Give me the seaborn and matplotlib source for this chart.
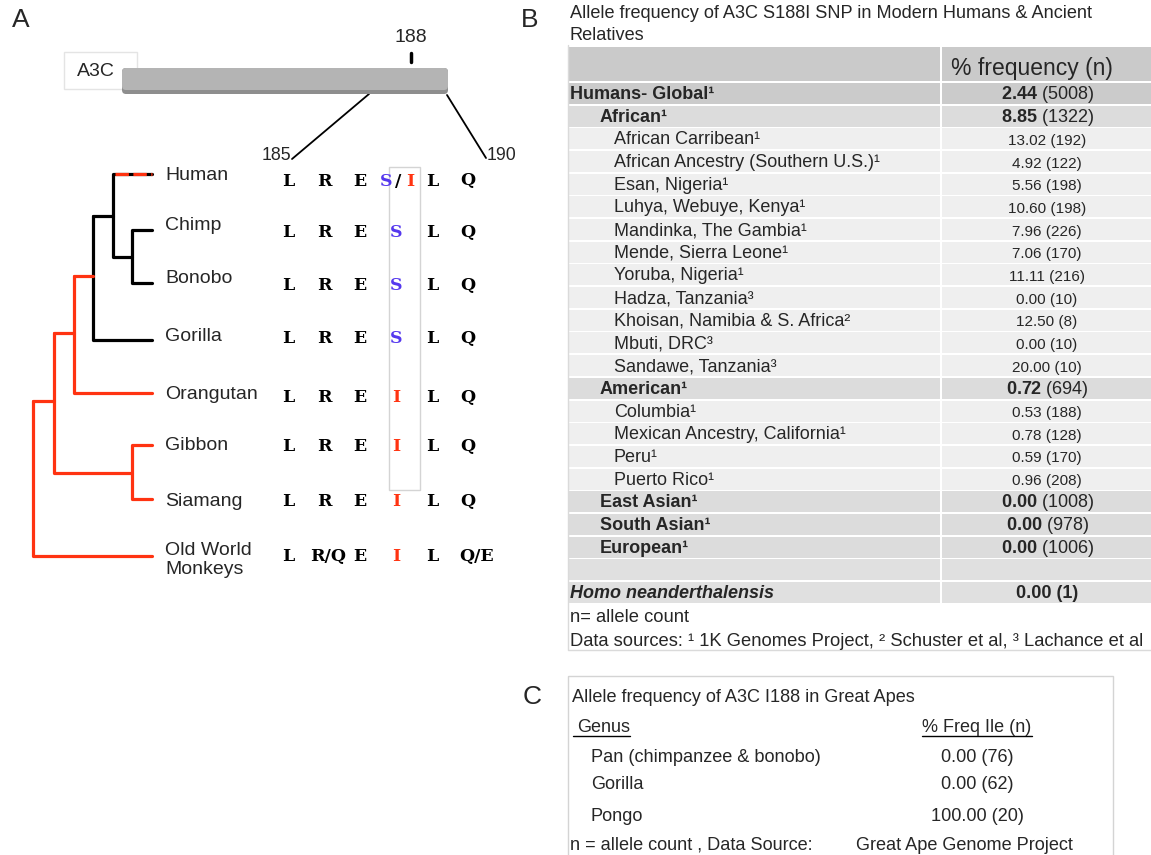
import pandas as pd
import seaborn as sns
import matplotlib.pyplot as plt
from matplotlib.patches import Rectangle, FancyBboxPatch

# ---- panel A data ----
species = ["Human", "Chimp", "Bonobo", "Gorilla", "Orangutan", "Gibbon", "Siamang", "Old World\nMonkeys"]
residues = [
    ["L", "R", "E", "S/I", "L", "Q"],
    ["L", "R", "E", "S", "L", "Q"],
    ["L", "R", "E", "S", "L", "Q"],
    ["L", "R", "E", "S", "L", "Q"],
    ["L", "R", "E", "I", "L", "Q"],
    ["L", "R", "E", "I", "L", "Q"],
    ["L", "R", "E", "I", "L", "Q"],
    ["L", "R/Q", "E", "I", "L", "Q/E"],
]
site_labels = ["185", "188", "190"]

# ---- panel B data ----
pop_names = ["Humans- Global", "African", "African Carribean", "African Ancestry (Southern U.S.)",
             "Esan, Nigeria", "Luhya, Webuye, Kenya", "Mandinka, The Gambia", "Mende, Sierra Leone",
             "Yoruba, Nigeria", "Hadza, Tanzania", "Khoisan, Namibia & S. Africa", "Mbuti, DRC",
             "Sandawe, Tanzania", "American", "Columbia", "Mexican Ancestry, California", "Peru",
             "Puerto Rico", "East Asian", "South Asian", "European"]
pop_level = [0, 1, 2, 2, 2, 2, 2, 2, 2, 2, 2, 2, 2, 1, 2, 2, 2, 2, 1, 1, 1]
pop_source = ["1", "1", "1", "1", "1", "1", "1", "1", "1", "3", "2", "3", "3",
              "1", "1", "1", "1", "1", "1", "1", "1"]
pop_freq = [2.44, 8.85, 13.02, 4.92, 5.56, 10.60, 7.96, 7.06, 11.11, 0.00, 12.50, 0.00,
            20.00, 0.72, 0.53, 0.78, 0.59, 0.96, 0.00, 0.00, 0.00]
pop_n = [5008, 1322, 192, 122, 198, 198, 226, 170, 216, 10, 8, 10, 10, 694, 188, 128,
         170, 208, 1008, 978, 1006]
nean_name = "Homo neanderthalensis"
nean_freq = 0.00
nean_n = 1

# ---- panel C data ----
genus = ["Pan (chimpanzee & bonobo)", "Gorilla", "Pongo"]
ape_freq = [0.00, 0.00, 100.00]
ape_n = [76, 62, 20]

sns.set_style("white")
plt.rcParams['font.family'] = ['Liberation Sans', 'DejaVu Sans']
plt.rcParams['mathtext.fontset'] = 'custom'
plt.rcParams['mathtext.rm'] = 'Liberation Sans'
plt.rcParams['mathtext.bf'] = 'Liberation Sans:bold'

sup = {"1": "\u00b9", "2": "\u00b2", "3": "\u00b3"}
RED = "#ff3311"
BLUE = "#5538ee"

fig = plt.figure(figsize=(11.51, 8.55), dpi=100)
ax = fig.add_axes([0, 0, 1, 1])

# ================= Panel A =================
ax.text(21, 20, "A", fontsize=19, ha="center", va="center")

# protein bar
ax.add_patch(Rectangle((64, 52), 73, 37, facecolor="white", edgecolor="#e4e4e4", lw=1, zorder=1))
ax.text(96, 72, "A3C", fontsize=14, ha="center", va="center", zorder=2)
ax.add_patch(FancyBboxPatch((122, 68), 326, 26, boxstyle="round,pad=0,rounding_size=4",
                            facecolor="#8e8e8e", edgecolor="none", zorder=3))
ax.add_patch(FancyBboxPatch((122, 68), 326, 22, boxstyle="round,pad=0,rounding_size=4",
                            facecolor="#b4b4b4", edgecolor="none", zorder=4))
ax.plot([411, 411], [53, 62], color="black", lw=2.5)
ax.text(411, 38, site_labels[1], fontsize=14, ha="center", va="center")
ax.plot([369, 292], [94, 159], color="black", lw=1.3)
ax.plot([447, 486], [95, 158], color="black", lw=1.3)
ax.text(276, 156, site_labels[0], fontsize=12.8, ha="center", va="center")
ax.text(502, 156, site_labels[2], fontsize=12.8, ha="center", va="center")

# tree branches
segs = [
    # black clade (African apes)
    ("k", [(93, 216), (93, 340), (152, 340)]),
    ("k", [(93, 216), (113, 216)]),
    ("k", [(152, 174), (113, 174), (113, 257), (132, 257)]),
    ("k", [(152, 230), (132, 230), (132, 283), (152, 283)]),
    # red lineages
    ("r", [(74, 276), (93, 276)]),
    ("r", [(74, 276), (74, 393), (152, 393)]),
    ("r", [(54, 333), (74, 333)]),
    ("r", [(54, 333), (54, 473), (132, 473)]),
    ("r", [(152, 445), (132, 445), (132, 499), (152, 499)]),
    ("r", [(33, 401), (54, 401)]),
    ("r", [(33, 401), (33, 556), (152, 556)]),
]
rows = []
for i, (c, pts) in enumerate(segs):
    for j, (x, y) in enumerate(pts):
        rows.append({"x": x, "y": y, "seg": i, "order": j, "col": c})
tree = pd.DataFrame(rows)
sns.lineplot(data=tree, x="x", y="y", units="seg", estimator=None, sort=False,
             hue="col", palette={"k": "black", "r": RED}, lw=2.3, legend=False, ax=ax)
ax.plot([115, 152], [174, 174], color=RED, lw=2.3, dashes=(4.2, 1.4), zorder=5)

label_y = [176, 225, 278, 336, 394, 445, 501, 560]
seq_y = [181, 232, 285, 338, 397, 446, 501, 556]
col_x = [288, 324, 360, 396, 432, 468]
for name, ly in zip(species, label_y):
    ax.text(165, ly, name, fontsize=14, ha="left", va="center", linespacing=1.15)

ax.add_patch(Rectangle((389, 167), 31, 323, facecolor="none", edgecolor="#d4d4d4", lw=1))
seq_font = dict(family="DejaVu Serif", fontweight="bold", fontsize=12.5, va="center")
for res, sy in zip(residues, seq_y):
    for k, (aa, cx) in enumerate(zip(res, col_x)):
        if aa == "S/I":
            ax.text(386, sy, "S", color=BLUE, ha="center", **seq_font)
            ax.text(398, sy, "/", color="black", ha="center", **seq_font)
            ax.text(410, sy, "I", color=RED, ha="center", **seq_font)
        elif aa == "S":
            ax.text(cx, sy, aa, color=BLUE, ha="center", **seq_font)
        elif aa == "I":
            ax.text(cx, sy, aa, color=RED, ha="center", **seq_font)
        elif "/" in aa:
            ax.text(cx + 4 if k == 1 else cx + 9, sy, aa, color="black", ha="center", **seq_font)
        else:
            ax.text(cx, sy, aa, color="black", ha="center", **seq_font)

# ================= Panel B =================
ax.text(530, 20, "B", fontsize=19, ha="center", va="center")
ax.text(570, 14, "Allele frequency of A3C S188I SNP in Modern Humans & Ancient",
        fontsize=13.1, ha="left", va="center")
ax.text(570, 35, "Relatives", fontsize=13.1, ha="left", va="center")

x0, xs, x1 = 569, 941, 1151
ax.add_patch(Rectangle((x0, 47), xs - x0 - 1, 34, facecolor="#cacaca", edgecolor="none"))
ax.add_patch(Rectangle((xs + 1.5, 47), x1 - xs, 34, facecolor="#cacaca", edgecolor="none"))
ax.text(1032, 69, "% frequency (n)", fontsize=16.5, ha="center", va="center")

pitch = 22.68
fills = {0: "#cbcbcb", 1: "#dcdcdc", 2: "#efefef"}
for i, (nm, lv, src, f, n) in enumerate(zip(pop_names, pop_level, pop_source, pop_freq, pop_n)):
    top = 83 + i * pitch
    ax.add_patch(Rectangle((x0, top), xs - x0 - 1, 21, facecolor=fills[lv], edgecolor="none"))
    ax.add_patch(Rectangle((xs + 1.5, top), x1 - xs, 21, facecolor=fills[lv], edgecolor="none"))
    cy = top + 11.5
    if lv < 2:
        ax.text(570 if lv == 0 else 600, cy, nm + sup[src], fontsize=13, fontweight="bold",
                ha="left", va="center")
        ax.text(1047, cy, r"$\mathbf{%.2f}$ (%d)" % (f, n), fontsize=13, ha="center", va="center")
    else:
        ax.text(614, cy, nm + sup[src], fontsize=13, ha="left", va="center")
        ax.text(1047, cy + 1, "%.2f (%d)" % (f, n), fontsize=11, ha="center", va="center")

for i in (21, 22):
    top = 83 + i * pitch
    ax.add_patch(Rectangle((x0, top), xs - x0 - 1, 21, facecolor="#e0e0e0", edgecolor="none"))
    ax.add_patch(Rectangle((xs + 1.5, top), x1 - xs, 21, facecolor="#e0e0e0", edgecolor="none"))
ycn = 83 + 22 * pitch + 11.5
ax.text(570, ycn, nean_name, fontsize=13, fontweight="bold", fontstyle="italic",
        ha="left", va="center")
ax.text(1047, ycn, "%.2f (%d)" % (nean_freq, nean_n), fontsize=13, fontweight="bold",
        ha="center", va="center")

ax.text(570, 617, "n= allele count", fontsize=13.2, ha="left", va="center")
ax.text(570, 641, "Data sources: \u00b9 1K Genomes Project, \u00b2 Schuster et al, \u00b3 Lachance et al",
        fontsize=13.2, ha="left", va="center")
ax.plot([568, 568, 1151], [45, 650, 650], color="#dadada", lw=1)

# ================= Panel C =================
ax.text(532, 697, "C", fontsize=19, ha="center", va="center")
ax.add_patch(Rectangle((568, 676), 545, 200, facecolor="none", edgecolor="#d4d4d4", lw=1))
ax.text(572, 697, "Allele frequency of A3C I188 in Great Apes", fontsize=13.1, ha="left", va="center")
ax.text(577, 727, "Genus", fontsize=13, ha="left", va="center")
ax.plot([573, 630], [736, 736], color="black", lw=1)
ax.text(977, 727, "% Freq Ile (n)", fontsize=13, ha="center", va="center")
ax.plot([922, 1032], [736, 736], color="black", lw=1)
for g, f, n, gy in zip(genus, ape_freq, ape_n, [757, 784, 816]):
    ax.text(591, gy, g, fontsize=13.1, ha="left", va="center")
    ax.text(977, gy, "%.2f (%d)" % (f, n), fontsize=13.1, ha="center", va="center")
ax.text(570, 845, "n = allele count , Data Source:", fontsize=13.1, ha="left", va="center")
ax.text(1073, 845, "Great Ape Genome Project", fontsize=13.1, ha="right", va="center")

ax.set_xlim(0, 1151)
ax.set_ylim(855, 0)
ax.axis("off")
fig.savefig("out.png", dpi=100, facecolor="white")
